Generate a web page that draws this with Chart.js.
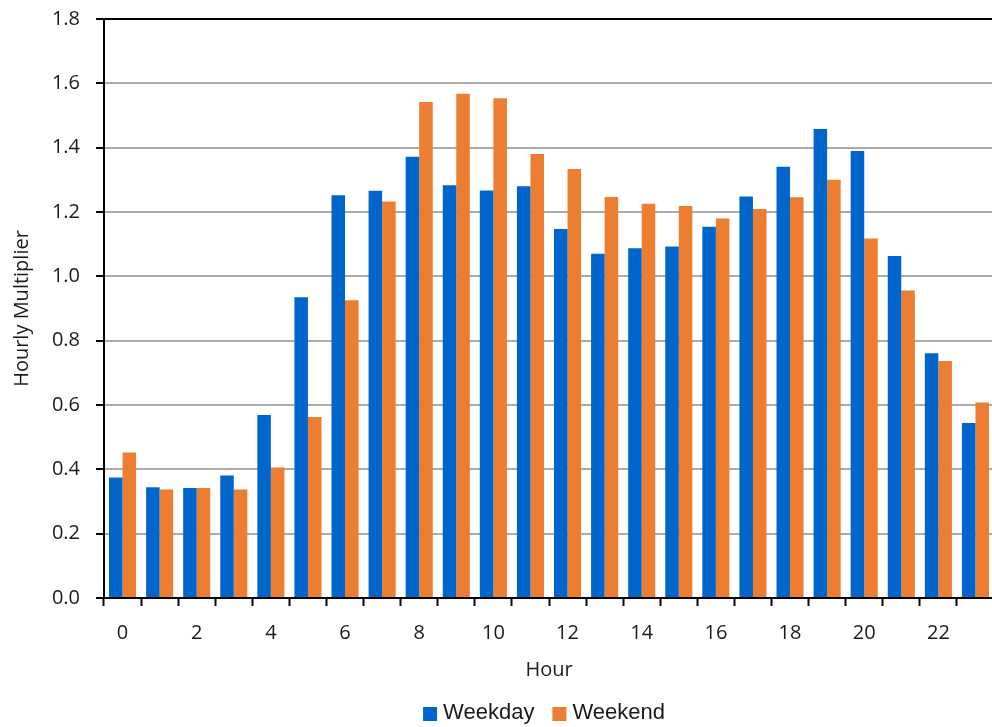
<!DOCTYPE html>
<html>
<head>
<meta charset="utf-8">
<script src="https://cdn.jsdelivr.net/npm/chart.js@4.4.1/dist/chart.umd.min.js"></script>
<style>
  html, body { margin: 0; padding: 0; background: #fff; overflow: hidden; }
  canvas { display: block; }
</style>
</head>
<body>
<canvas id="chart" width="994" height="727"></canvas>
<script>
// Hour of day (categories)
const hours = ['0','1','2','3','4','5','6','7','8','9','10','11','12','13','14','15','16','17','18','19','20','21','22','23'];
// Labels printed under the x axis (every second hour)
const xTickLabels = ['0','','2','','4','','6','','8','','10','','12','','14','','16','','18','','20','','22',''];
// Hourly multipliers
const weekday = [0.375, 0.344, 0.342, 0.381, 0.569, 0.935, 1.252, 1.266, 1.372, 1.283, 1.267, 1.280,
                 1.147, 1.070, 1.087, 1.093, 1.154, 1.248, 1.341, 1.458, 1.390, 1.063, 0.761, 0.544];
const weekend = [0.452, 0.337, 0.342, 0.337, 0.406, 0.563, 0.926, 1.233, 1.542, 1.568, 1.554, 1.380,
                 1.334, 1.247, 1.226, 1.219, 1.180, 1.209, 1.246, 1.300, 1.118, 0.956, 0.737, 0.608];
const seriesNames = ['Weekday', 'Weekend'];
const yMin = 0, yMax = 1.8, yStep = 0.2;

const BLUE = '#0066cc';
const ORANGE = '#ed7d31';

// Legend drawn under the x-axis title
const bottomLegend = {
  id: 'bottomLegend',
  afterDraw(chart) {
    const ctx = chart.ctx;
    const sets = chart.data.datasets;
    ctx.save();
    ctx.font = '22px "Liberation Sans", Arial, sans-serif';
    const box = 14, gap = 6, itemGap = 18;
    const widths = sets.map(d => ctx.measureText(d.label).width);
    let total = 0;
    widths.forEach((w, i) => { total += box + gap + w + (i < widths.length - 1 ? itemGap : 0); });
    let x = 544 - total / 2;
    const baseline = 718.5;
    ctx.textBaseline = 'alphabetic';
    ctx.textAlign = 'left';
    sets.forEach((d, i) => {
      ctx.fillStyle = d.backgroundColor;
      ctx.fillRect(x, 707, box, box);
      x += box + gap;
      ctx.fillStyle = '#1a1a1a';
      ctx.fillText(d.label, x, baseline);
      x += widths[i] + itemGap;
    });
    ctx.restore();
  }
};

new Chart(document.getElementById('chart'), {
  type: 'bar',
  data: {
    labels: hours,
    datasets: [
      { label: seriesNames[0], data: weekday, backgroundColor: BLUE, borderWidth: 0 },
      { label: seriesNames[1], data: weekend, backgroundColor: ORANGE, borderWidth: 0 }
    ]
  },
  options: {
    responsive: false,
    animation: false,
    devicePixelRatio: 1,
    datasets: { bar: { categoryPercentage: 0.73, barPercentage: 1.0 } },
    layout: { padding: { top: 19, right: 0, bottom: 45, left: 0 } },
    plugins: {
      legend: { display: false },
      tooltip: { enabled: false }
    },
    scales: {
      x: {
        offset: true,
        grid: {
          offset: true,
          drawOnChartArea: false,
          drawTicks: true,
          tickLength: 8,
          tickColor: '#000',
          tickWidth: 2
        },
        border: { display: true, color: '#000', width: 2 },
        ticks: {
          autoSkip: false,
          maxRotation: 0,
          padding: 15,
          color: '#1a1a1a',
          font: { family: '"Open Sans", sans-serif', size: 20 },
          callback: (v, i) => xTickLabels[i]
        },
        title: {
          display: true,
          text: 'Hour',
          color: '#1a1a1a',
          font: { family: '"Open Sans", sans-serif', size: 20 },
          padding: { top: 13, bottom: 0 }
        },
        afterFit: (scale) => { scale.height = 84; }
      },
      y: {
        min: yMin,
        max: yMax,
        ticks: {
          stepSize: yStep,
          padding: 16,
          color: '#1a1a1a',
          // single-line labels: a tight line height keeps the plot top close to the 1.8 tick
          font: { family: '"Open Sans", sans-serif', size: 20, lineHeight: 0.2 },
          callback: (v) => Number(v).toFixed(1)
        },
        grid: {
          color: (c) => (c.tick && c.tick.value > yMax - 0.01) ? '#000' : '#ababab',
          lineWidth: 2,
          drawTicks: true,
          tickLength: 8,
          tickColor: '#000',
          tickWidth: 2
        },
        border: { display: true, color: '#000', width: 2 },
        title: {
          display: true,
          text: 'Hourly Multiplier',
          color: '#1a1a1a',
          font: { family: '"Open Sans", sans-serif', size: 20 },
          padding: { top: 10, bottom: 0 }
        },
        afterFit: (scale) => { scale.width = 104; }
      }
    }
  },
  plugins: [bottomLegend]
});
</script>
</body>
</html>
